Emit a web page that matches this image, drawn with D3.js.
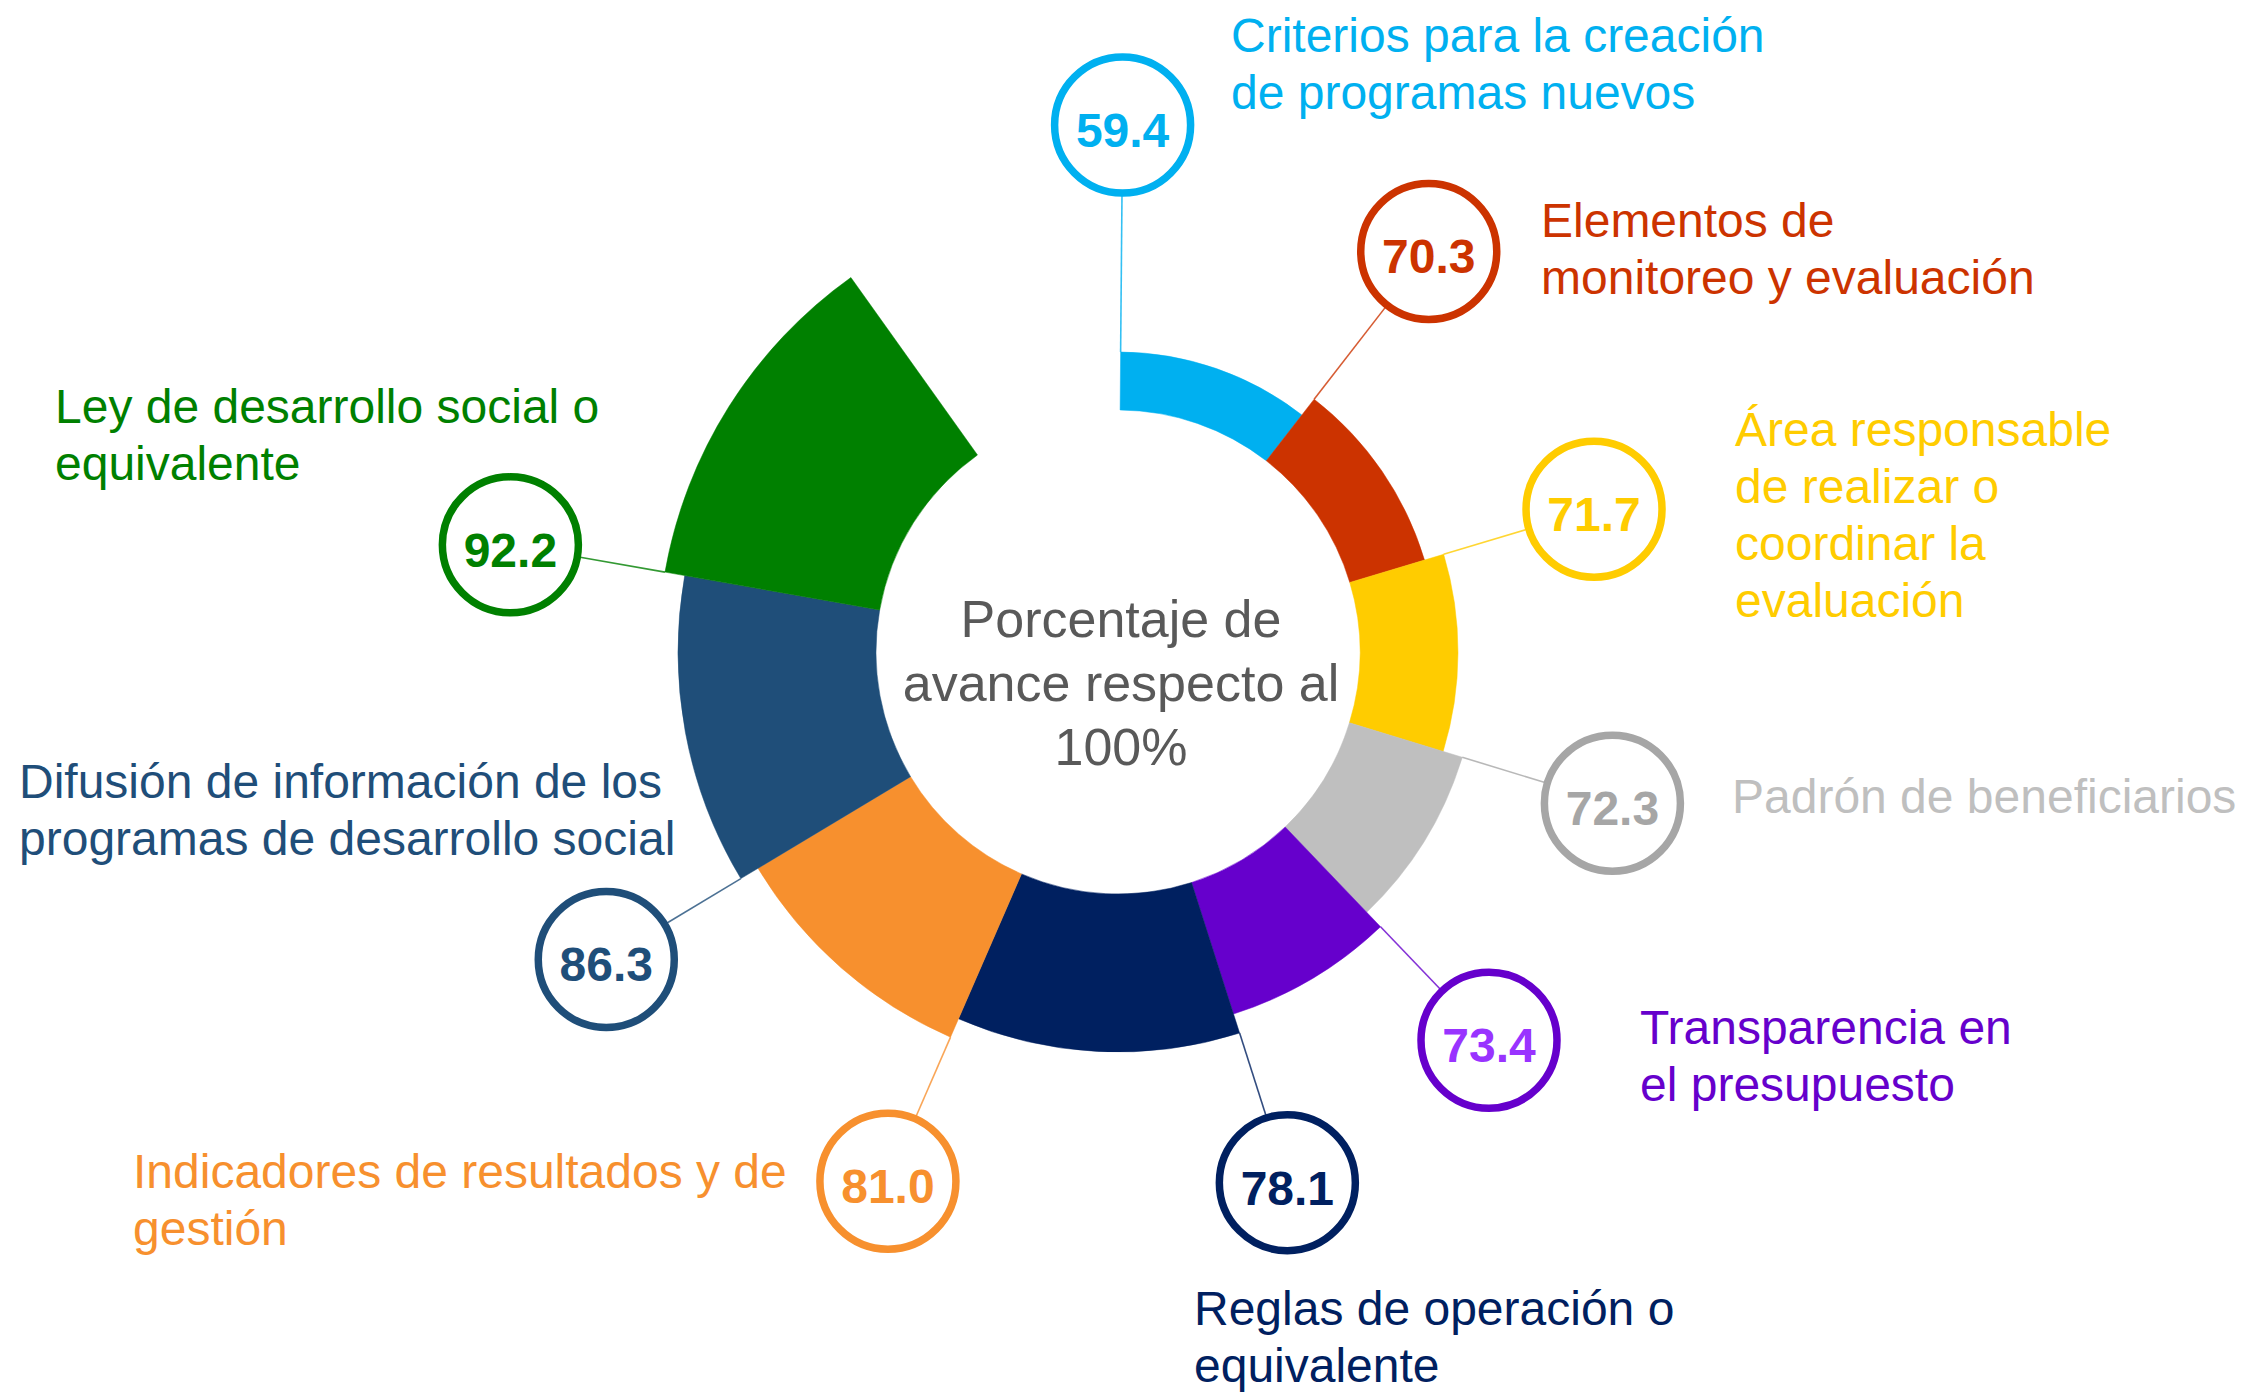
<!DOCTYPE html>
<html>
<head>
<meta charset="utf-8">
<script src="https://cdn.jsdelivr.net/npm/d3@7"></script>
<style>
  html, body { margin: 0; padding: 0; background: #fff; }
  svg { display: block; font-family: "Liberation Sans", Arial, sans-serif; }
</style>
</head>
<body>
<div id="chart"></div>
<script>
// ---- data (clockwise from 12 o'clock) ----
const categories = [
    "Criterios para la creación de programas nuevos",
    "Elementos de monitoreo y evaluación",
    "Área responsable de realizar o coordinar la evaluación",
    "Padrón de beneficiarios",
    "Transparencia en el presupuesto",
    "Reglas de operación o equivalente",
    "Indicadores de resultados y de gestión",
    "Difusión de información de los programas de desarrollo social",
    "Ley de desarrollo social o equivalente"
];
const values = [59.4, 70.3, 71.7, 72.3, 73.4, 78.1, 81.0, 86.3, 92.2];
// share of the ring each item takes, in degrees
const arcSpan = [37.3, 35.5, 33.7, 29.3, 26.0, 41.2, 35.5, 41.0, 44.5];
const labelLines = [
    ["Criterios para la creación", "de programas nuevos"],
    ["Elementos de", "monitoreo y evaluación"],
    ["Área responsable", "de realizar o", "coordinar la", "evaluación"],
    ["Padrón de beneficiarios"],
    ["Transparencia en", "el presupuesto"],
    ["Reglas de operación o", "equivalente"],
    ["Indicadores de resultados y de", "gestión"],
    ["Difusión de información de los", "programas de desarrollo social"],
    ["Ley de desarrollo social o", "equivalente"]
];
const centerTitle = ["Porcentaje de", "avance respecto al", "100%"];

// ---- styles ----
const sliceColors  = ["#00B0F0", "#CC3300", "#FFCC00", "#BFBFBF", "#6600CC", "#002060", "#F7902E", "#1F4E79", "#008000"];
const ringColors   = ["#00B0F0", "#CC3300", "#FFCC00", "#A6A6A6", "#6600CC", "#002060", "#F7902E", "#1F4E79", "#008000"];
const numberColors = ["#00B0F0", "#CC3300", "#FFCC00", "#A6A6A6", "#9933FF", "#002060", "#F7902E", "#1F4E79", "#008000"];
const textColors   = ["#00B0F0", "#CC3300", "#FFCC00", "#BFBFBF", "#6600CC", "#002060", "#F7902E", "#1F4E79", "#008000"];

// where each label block starts (first baseline), measured from the ring centre
const labelPos = [
    { dx: 113, dy: -600 },
    { dx: 423, dy: -415 },
    { dx: 617, dy: -206 },
    { dx: 614, dy: 161 },
    { dx: 522, dy: 392 },
    { dx: 76, dy: 673 },
    { dx: -985, dy: 536 },
    { dx: -1099, dy: 146 },
    { dx: -1063, dy: -229 }
];

const W = 2252, H = 1392;
const cx = 1118, cy = 652;
const innerR = 242;
const bubbleR = 68;
const lineH = 57;

const svg = d3.select("#chart").append("svg")
    .attr("width", W)
    .attr("height", H);

const data = categories.map((c, i) => ({ key: c, value: values[i], span: arcSpan[i] }));

const startDeg = 0.5;
const pie = d3.pie()
    .sort(null)
    .value(d => d.span)
    .startAngle(startDeg * Math.PI / 180)
    .endAngle((startDeg + d3.sum(arcSpan)) * Math.PI / 180);
const slices = pie(data);

// outer radius grows with the rank of the value
const rScale = d3.scalePoint()
    .domain(data.slice().sort((a, b) => a.value - b.value).map(d => d.key))
    .range([300, 460]);

const arc = d3.arc()
    .innerRadius(innerR)
    .outerRadius(d => rScale(d.data.key));

const polar = (a, r) => [r * Math.sin(a), -r * Math.cos(a)];

// bubble sits on the start edge of its slice; short slices get pushed out further
slices.forEach(d => {
    d.outer = rScale(d.data.key);
    d.dist = Math.max(d.outer + 157, 827 - d.outer);
    const p = polar(d.startAngle, d.dist);
    d.bx = cx + p[0];
    d.by = cy + p[1];
});

const g = svg.append("g").attr("transform", `translate(${cx},${cy})`);

g.selectAll("path.slice")
    .data(slices)
    .join("path")
    .attr("class", "slice")
    .attr("d", arc)
    .attr("fill", d => sliceColors[d.index])
    .attr("stroke", d => sliceColors[d.index])
    .attr("stroke-width", 0.5);

// leader lines
g.selectAll("line.leader")
    .data(slices)
    .join("line")
    .attr("class", "leader")
    .attr("x1", d => polar(d.startAngle, d.outer)[0])
    .attr("y1", d => polar(d.startAngle, d.outer)[1])
    .attr("x2", d => polar(d.startAngle, d.dist - bubbleR)[0])
    .attr("y2", d => polar(d.startAngle, d.dist - bubbleR)[1])
    .attr("stroke", d => ringColors[d.index])
    .attr("stroke-opacity", 0.8)
    .attr("stroke-width", 1.6);

// bubbles
const bubbles = svg.selectAll("g.bubble")
    .data(slices)
    .join("g")
    .attr("class", "bubble")
    .attr("transform", d => `translate(${d.bx},${d.by})`);

bubbles.append("circle")
    .attr("r", bubbleR)
    .attr("fill", "#fff")
    .attr("stroke", d => ringColors[d.index])
    .attr("stroke-width", 7.5);

bubbles.append("text")
    .attr("text-anchor", "middle")
    .attr("y", 22)
    .attr("font-size", 48)
    .attr("font-weight", "bold")
    .attr("fill", d => numberColors[d.index])
    .text(d => d.data.value.toFixed(1));

// category labels
const labels = svg.selectAll("text.label")
    .data(slices)
    .join("text")
    .attr("class", "label")
    .attr("font-size", 48)
    .attr("fill", d => textColors[d.index]);

labels.selectAll("tspan")
    .data(d => labelLines[d.index].map((t, k) => ({ t, k, i: d.index })))
    .join("tspan")
    .attr("x", o => cx + labelPos[o.i].dx)
    .attr("y", o => cy + labelPos[o.i].dy + o.k * lineH)
    .text(o => o.t);

// center title
svg.append("text")
    .attr("text-anchor", "middle")
    .attr("font-size", 52)
    .attr("fill", "#595959")
    .selectAll("tspan")
    .data(centerTitle)
    .join("tspan")
    .attr("x", cx + 3)
    .attr("y", (t, k) => cy - 15 + k * 64)
    .text(t => t);
</script>
</body>
</html>
